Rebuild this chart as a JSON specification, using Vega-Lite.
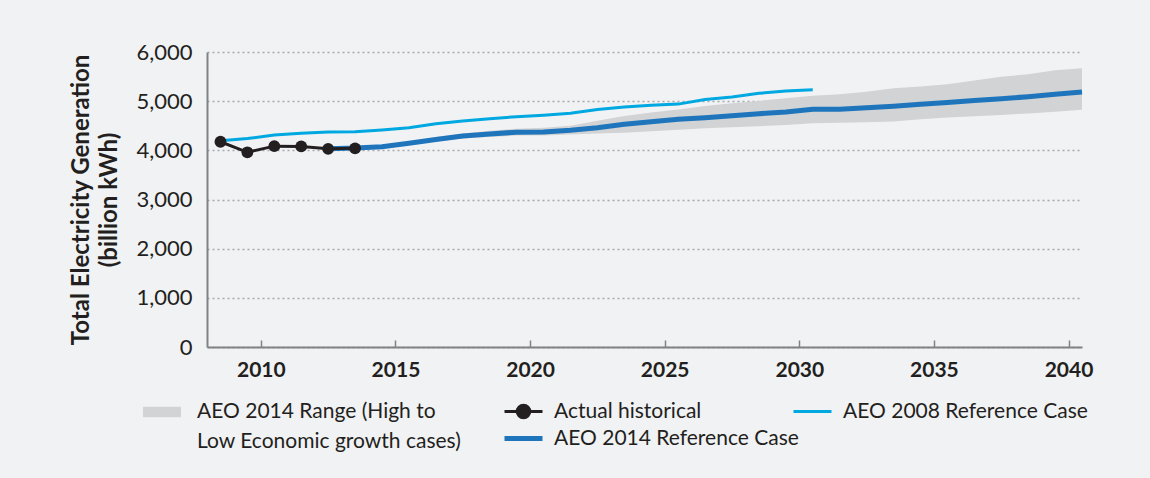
{
  "$schema": "https://vega.github.io/schema/vega-lite/v6.json",
  "autosize": "none",
  "width": 875,
  "height": 295,
  "padding": {"left": 207, "top": 52, "right": 68, "bottom": 131},
  "background": "#f1f2f4",
  "config": {
    "view": {"stroke": null},
    "font": "Lato",
    "style": {"guide-label": {"lineHeight": 30}},
    "axis": {"labelFont": "Lato", "titleFont": "Lato", "labelColor": "#231f20", "titleColor": "#231f20"},
    "legend": {"labelFont": "Lato", "labelColor": "#231f20", "labelFontSize": 21, "labelLimit": 400}
  },
  "datasets": {
    "lines": [
      {"year": 2008, "series": "Actual historical", "value": 4175},
      {"year": 2009, "series": "Actual historical", "value": 3960},
      {"year": 2010, "series": "Actual historical", "value": 4085},
      {"year": 2011, "series": "Actual historical", "value": 4080},
      {"year": 2012, "series": "Actual historical", "value": 4030},
      {"year": 2013, "series": "Actual historical", "value": 4040},
      {"year": 2008, "series": "AEO 2008 Reference Case", "value": 4195},
      {"year": 2009, "series": "AEO 2008 Reference Case", "value": 4240},
      {"year": 2010, "series": "AEO 2008 Reference Case", "value": 4310},
      {"year": 2011, "series": "AEO 2008 Reference Case", "value": 4345},
      {"year": 2012, "series": "AEO 2008 Reference Case", "value": 4375},
      {"year": 2013, "series": "AEO 2008 Reference Case", "value": 4380},
      {"year": 2014, "series": "AEO 2008 Reference Case", "value": 4415},
      {"year": 2015, "series": "AEO 2008 Reference Case", "value": 4460},
      {"year": 2016, "series": "AEO 2008 Reference Case", "value": 4540},
      {"year": 2017, "series": "AEO 2008 Reference Case", "value": 4595},
      {"year": 2018, "series": "AEO 2008 Reference Case", "value": 4640},
      {"year": 2019, "series": "AEO 2008 Reference Case", "value": 4685},
      {"year": 2020, "series": "AEO 2008 Reference Case", "value": 4715},
      {"year": 2021, "series": "AEO 2008 Reference Case", "value": 4755},
      {"year": 2022, "series": "AEO 2008 Reference Case", "value": 4830},
      {"year": 2023, "series": "AEO 2008 Reference Case", "value": 4880},
      {"year": 2024, "series": "AEO 2008 Reference Case", "value": 4915},
      {"year": 2025, "series": "AEO 2008 Reference Case", "value": 4940},
      {"year": 2026, "series": "AEO 2008 Reference Case", "value": 5035},
      {"year": 2027, "series": "AEO 2008 Reference Case", "value": 5085},
      {"year": 2028, "series": "AEO 2008 Reference Case", "value": 5160},
      {"year": 2029, "series": "AEO 2008 Reference Case", "value": 5205},
      {"year": 2030, "series": "AEO 2008 Reference Case", "value": 5230},
      {"year": 2012, "series": "AEO 2014 Reference Case", "value": 4030},
      {"year": 2013, "series": "AEO 2014 Reference Case", "value": 4045},
      {"year": 2014, "series": "AEO 2014 Reference Case", "value": 4075},
      {"year": 2015, "series": "AEO 2014 Reference Case", "value": 4145},
      {"year": 2016, "series": "AEO 2014 Reference Case", "value": 4220},
      {"year": 2017, "series": "AEO 2014 Reference Case", "value": 4290},
      {"year": 2018, "series": "AEO 2014 Reference Case", "value": 4330},
      {"year": 2019, "series": "AEO 2014 Reference Case", "value": 4370},
      {"year": 2020, "series": "AEO 2014 Reference Case", "value": 4375},
      {"year": 2021, "series": "AEO 2014 Reference Case", "value": 4410},
      {"year": 2022, "series": "AEO 2014 Reference Case", "value": 4460},
      {"year": 2023, "series": "AEO 2014 Reference Case", "value": 4530},
      {"year": 2024, "series": "AEO 2014 Reference Case", "value": 4580},
      {"year": 2025, "series": "AEO 2014 Reference Case", "value": 4630},
      {"year": 2026, "series": "AEO 2014 Reference Case", "value": 4665},
      {"year": 2027, "series": "AEO 2014 Reference Case", "value": 4705},
      {"year": 2028, "series": "AEO 2014 Reference Case", "value": 4745},
      {"year": 2029, "series": "AEO 2014 Reference Case", "value": 4780},
      {"year": 2030, "series": "AEO 2014 Reference Case", "value": 4835},
      {"year": 2031, "series": "AEO 2014 Reference Case", "value": 4835},
      {"year": 2032, "series": "AEO 2014 Reference Case", "value": 4865},
      {"year": 2033, "series": "AEO 2014 Reference Case", "value": 4895},
      {"year": 2034, "series": "AEO 2014 Reference Case", "value": 4935},
      {"year": 2035, "series": "AEO 2014 Reference Case", "value": 4975},
      {"year": 2036, "series": "AEO 2014 Reference Case", "value": 5015},
      {"year": 2037, "series": "AEO 2014 Reference Case", "value": 5050},
      {"year": 2038, "series": "AEO 2014 Reference Case", "value": 5090},
      {"year": 2039, "series": "AEO 2014 Reference Case", "value": 5140},
      {"year": 2040, "series": "AEO 2014 Reference Case", "value": 5185}
    ],
    "range": [
      {"year": 2012, "band": "AEO 2014 Range (High to Low Economic growth cases)", "lo": 4030, "hi": 4030},
      {"year": 2013, "band": "AEO 2014 Range (High to Low Economic growth cases)", "lo": 4035, "hi": 4060},
      {"year": 2014, "band": "AEO 2014 Range (High to Low Economic growth cases)", "lo": 4060, "hi": 4100},
      {"year": 2015, "band": "AEO 2014 Range (High to Low Economic growth cases)", "lo": 4120, "hi": 4180},
      {"year": 2016, "band": "AEO 2014 Range (High to Low Economic growth cases)", "lo": 4180, "hi": 4270},
      {"year": 2017, "band": "AEO 2014 Range (High to Low Economic growth cases)", "lo": 4240, "hi": 4340},
      {"year": 2018, "band": "AEO 2014 Range (High to Low Economic growth cases)", "lo": 4270, "hi": 4400},
      {"year": 2019, "band": "AEO 2014 Range (High to Low Economic growth cases)", "lo": 4300, "hi": 4440},
      {"year": 2020, "band": "AEO 2014 Range (High to Low Economic growth cases)", "lo": 4300, "hi": 4460},
      {"year": 2021, "band": "AEO 2014 Range (High to Low Economic growth cases)", "lo": 4320, "hi": 4500},
      {"year": 2022, "band": "AEO 2014 Range (High to Low Economic growth cases)", "lo": 4340, "hi": 4600},
      {"year": 2023, "band": "AEO 2014 Range (High to Low Economic growth cases)", "lo": 4360, "hi": 4700},
      {"year": 2024, "band": "AEO 2014 Range (High to Low Economic growth cases)", "lo": 4390, "hi": 4770},
      {"year": 2025, "band": "AEO 2014 Range (High to Low Economic growth cases)", "lo": 4420, "hi": 4830},
      {"year": 2026, "band": "AEO 2014 Range (High to Low Economic growth cases)", "lo": 4450, "hi": 4900},
      {"year": 2027, "band": "AEO 2014 Range (High to Low Economic growth cases)", "lo": 4470, "hi": 4960},
      {"year": 2028, "band": "AEO 2014 Range (High to Low Economic growth cases)", "lo": 4490, "hi": 5005},
      {"year": 2029, "band": "AEO 2014 Range (High to Low Economic growth cases)", "lo": 4515, "hi": 5060},
      {"year": 2030, "band": "AEO 2014 Range (High to Low Economic growth cases)", "lo": 4550, "hi": 5110},
      {"year": 2031, "band": "AEO 2014 Range (High to Low Economic growth cases)", "lo": 4560, "hi": 5140},
      {"year": 2032, "band": "AEO 2014 Range (High to Low Economic growth cases)", "lo": 4570, "hi": 5190},
      {"year": 2033, "band": "AEO 2014 Range (High to Low Economic growth cases)", "lo": 4585, "hi": 5265},
      {"year": 2034, "band": "AEO 2014 Range (High to Low Economic growth cases)", "lo": 4630, "hi": 5300},
      {"year": 2035, "band": "AEO 2014 Range (High to Low Economic growth cases)", "lo": 4670, "hi": 5345},
      {"year": 2036, "band": "AEO 2014 Range (High to Low Economic growth cases)", "lo": 4695, "hi": 5420},
      {"year": 2037, "band": "AEO 2014 Range (High to Low Economic growth cases)", "lo": 4720, "hi": 5495},
      {"year": 2038, "band": "AEO 2014 Range (High to Low Economic growth cases)", "lo": 4750, "hi": 5550},
      {"year": 2039, "band": "AEO 2014 Range (High to Low Economic growth cases)", "lo": 4785, "hi": 5630},
      {"year": 2040, "band": "AEO 2014 Range (High to Low Economic growth cases)", "lo": 4825, "hi": 5670}
    ]
  },
  "encoding": {
    "x": {
      "field": "year", "type": "quantitative",
      "scale": {"domain": [2007.5, 2040], "nice": false, "zero": false},
      "axis": {
        "title": null,
        "values": [2009.5, 2014.5, 2019.5, 2024.5, 2029.5, 2034.5, 2039.5],
        "labelExpr": "format(datum.value + 0.5, 'd')",
        "grid": false,
        "domainColor": "#808285", "domainWidth": 2,
        "tickColor": "#808285", "tickWidth": 1.5, "tickSize": -7,
        "labelFontSize": 21, "labelFontWeight": "bold", "labelPadding": 19
      }
    }
  },
  "layer": [
    {
      "data": {"name": "range"},
      "mark": {"type": "area", "opacity": 1},
      "encoding": {
        "y": {
          "field": "lo", "type": "quantitative",
          "scale": {"domain": [0, 6000], "nice": false},
          "axis": {
            "title": ["Total Electricity Generation", "(billion kWh)"],
            "titleFontSize": 24, "titleFontWeight": "bold", "titleLineHeight": 28, "titlePadding": 14,
            "values": [0, 1000, 2000, 3000, 4000, 5000, 6000], "format": ",d",
            "labelFontSize": 22, "labelPadding": 15,
            "ticks": false,
            "domainColor": "#808285", "domainWidth": 2,
            "grid": true, "gridColor": "#a7a9ac", "gridDash": [2, 3], "gridWidth": 1.5
          }
        },
        "y2": {"field": "hi"},
        "fill": {
          "field": "band", "type": "nominal",
          "scale": {"range": ["#d1d3d4"]},
          "legend": {
            "orient": "none", "legendX": -64, "legendY": 347, "title": null,
            "labelExpr": "['AEO 2014 Range (High to', 'Low Economic growth cases)']",
            "labelBaseline": "alphabetic",
            "symbolType": "M-1,-0.586H1V-0.046H-1Z",
            "symbolSize": 1444, "symbolStrokeWidth": 0, "labelOffset": 16
          }
        }
      }
    },
    {
      "data": {"name": "lines"},
      "transform": [{"filter": "datum.series === 'AEO 2014 Reference Case'"}],
      "mark": {"type": "line", "strokeWidth": 5},
      "encoding": {
        "y": {"field": "value", "type": "quantitative"},
        "stroke": {
          "field": "series", "type": "nominal",
          "scale": {"domain": ["Actual historical", "AEO 2014 Reference Case", "AEO 2008 Reference Case"], "range": ["#231f20", "#1f75bc", "#00a8e1"]},
          "legend": {
            "orient": "none", "legendX": 306, "legendY": 349, "title": null,
            "columns": 2, "gridAlign": "none", "columnPadding": -12, "rowPadding": 3,
            "symbolSize": 1444, "labelOffset": 20,
            "encode": {
              "symbols": {
                "update": {
                  "shape": {"signal": "datum.value === 'Actual historical' ? 'M-1,0L1,0M-0.33,0A0.33,0.33,0,1,1,0.33,0A0.33,0.33,0,1,1,-0.33,0' : 'M-1,0L1,0'"},
                  "fill": {"signal": "datum.value === 'Actual historical' ? '#231f20' : 'transparent'"},
                  "strokeWidth": {"signal": "datum.value === 'AEO 2014 Reference Case' ? 5 : 3"}
                }
              }
            }
          }
        }
      }
    },
    {
      "data": {"name": "lines"},
      "transform": [{"filter": "datum.series === 'AEO 2008 Reference Case'"}],
      "mark": {"type": "line", "strokeWidth": 3},
      "encoding": {
        "y": {"field": "value", "type": "quantitative"},
        "stroke": {"field": "series", "type": "nominal"}
      }
    },
    {
      "data": {"name": "lines"},
      "transform": [{"filter": "datum.series === 'Actual historical'"}],
      "mark": {"type": "line", "strokeWidth": 3},
      "encoding": {
        "y": {"field": "value", "type": "quantitative"},
        "stroke": {"field": "series", "type": "nominal"}
      }
    },
    {
      "data": {"name": "lines"},
      "transform": [{"filter": "datum.series === 'Actual historical'"}],
      "mark": {"type": "circle", "size": 140, "color": "#231f20", "opacity": 1},
      "encoding": {
        "y": {"field": "value", "type": "quantitative"}
      }
    }
  ]
}
